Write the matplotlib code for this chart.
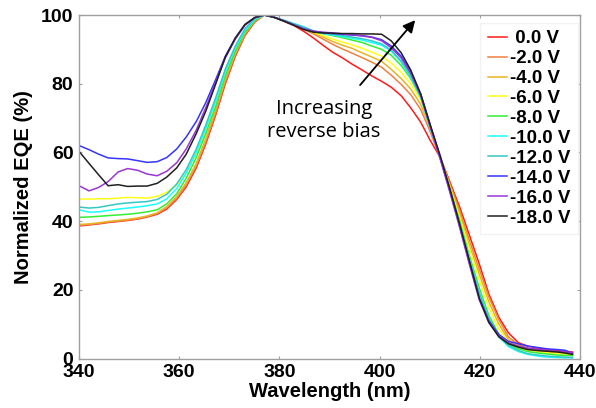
import matplotlib
matplotlib.use("Agg")
import matplotlib.pyplot as plt

plt.rcParams['font.family'] = ['Liberation Sans', 'DejaVu Sans']

wavelength = [340.0, 342.0, 343.9, 345.8, 347.8, 349.7, 351.7, 353.6, 355.6, 357.5,
              359.5, 361.4, 363.4, 365.3, 367.3, 369.2, 371.2, 373.1, 375.1, 377.0,
              379.0, 380.9, 382.9, 384.8, 386.8, 388.7, 390.6, 392.6, 394.5, 396.5,
              398.4, 400.4, 402.3, 404.3, 406.2, 408.2, 410.1, 412.1, 414.0, 416.0,
              417.9, 419.9, 421.8, 423.8, 425.7, 427.7, 429.6, 431.6, 433.5, 435.5,
              437.0, 438.5]

labels = [' 0.0 V', '-2.0 V', '-4.0 V', '-6.0 V', '-8.0 V',
          '-10.0 V', '-12.0 V', '-14.0 V', '-16.0 V', '-18.0 V']

eqe_0V = [38.6, 38.9, 39.2, 39.6, 39.9, 40.2, 40.6, 41.2, 42.0,
          43.5, 46.3, 50.0, 55.5, 62.5, 71.0, 80.0, 88.0, 94.0, 98.0,
          100, 99.3, 98.2, 96.9, 95.3, 93.3, 91.2, 89.2, 87.5, 85.7, 84.0,
          82.3, 80.7, 79.0, 76.5, 73.0, 68.8, 63.5, 58.5, 51.5, 44.0,
          36.0, 27.5, 18.8, 12.0, 7.5, 4.6, 3.6, 3.0, 2.6, 2.3,
          2.1, 1.9]
eqe_m2V = [38.8, 39.0, 39.3, 39.7, 40.0, 40.3, 40.7, 41.3, 42.2,
           43.8, 46.6, 50.5, 56.0, 63.0, 71.5, 80.5, 88.3, 94.2, 98.2,
           100, 99.3, 98.3, 97.1, 95.9, 94.5, 93.0, 91.5, 90.1, 88.9, 87.6,
           86.3, 84.8, 82.5, 79.8, 76.8, 72.5, 66.0, 58.3, 51.0, 43.0,
           34.5, 26.0, 18.0, 11.3, 6.3, 4.0, 3.0, 2.5, 2.1, 1.8,
           1.7, 1.5]
eqe_m4V = [39.0, 39.2, 39.5, 39.9, 40.2, 40.5, 40.9, 41.5, 42.4,
           44.2, 47.2, 51.2, 56.8, 64.0, 72.5, 81.3, 89.0, 94.6, 98.4,
           100, 99.3, 98.3, 97.1, 96.0, 94.8, 93.6, 92.3, 91.2, 90.3, 89.0,
           87.8, 86.5, 84.2, 81.5, 78.5, 74.0, 67.0, 58.5, 50.5, 42.0,
           33.0, 24.5, 16.5, 10.0, 5.5, 3.6, 2.6, 2.2, 1.9, 1.6,
           1.5, 1.3]
eqe_m6V = [46.4, 46.4, 46.5, 46.5, 46.7, 46.9, 46.8, 46.7, 47.2,
           48.4, 50.5, 54.0, 59.5, 66.5, 74.5, 83.0, 90.0, 95.3, 98.6,
           100, 99.3, 98.3, 97.1, 96.0, 95.0, 94.0, 93.0, 92.1, 91.3, 90.3,
           89.2, 88.0, 86.0, 83.3, 80.0, 75.3, 67.5, 58.5, 50.0, 41.0,
           32.0, 23.0, 15.0, 8.5, 5.0, 3.3, 2.4, 2.0, 1.7, 1.4,
           1.3, 1.1]
eqe_m8V = [41.1, 41.2, 41.4, 41.6, 41.8, 42.0, 42.3, 42.7, 43.3,
           45.0, 48.0, 52.5, 58.5, 65.5, 73.5, 82.3, 89.6, 95.0, 98.5,
           100, 99.3, 98.3, 97.1, 96.0, 95.2, 94.6, 94.0, 93.4, 92.7, 92.0,
           91.0, 90.0, 88.3, 85.3, 81.5, 76.0, 67.5, 58.5, 49.5, 40.0,
           30.0, 20.5, 12.5, 7.0, 4.2, 2.8, 2.0, 1.6, 1.3, 1.0,
           0.9, 0.8]
eqe_m10V = [43.3, 42.6, 42.7, 43.1, 43.5, 43.8, 44.1, 44.5, 45.0,
            46.5, 49.5, 54.0, 60.0, 67.0, 75.0, 83.5, 90.5, 95.5, 98.8,
            100, 99.3, 98.4, 97.3, 96.2, 95.2, 94.6, 94.2, 93.7, 93.2, 92.7,
            92.0, 91.2, 89.5, 86.3, 82.0, 76.0, 67.0, 58.5, 49.0, 39.0,
            29.0, 19.0, 11.5, 6.3, 3.5, 2.0, 1.2, 0.7, 0.4, 0.3,
            0.2, 0.2]
eqe_m12V = [44.1, 43.8, 44.0, 44.5, 45.0, 45.3, 45.5, 45.7, 46.3,
            47.8, 50.8, 55.0, 61.0, 68.0, 76.0, 84.3, 91.0, 96.0, 99.0,
            100, 99.3, 98.5, 97.5, 96.6, 95.4, 94.8, 94.4, 94.0, 93.6, 93.1,
            92.5, 91.6, 89.8, 86.6, 82.3, 76.3, 67.3, 58.5, 49.0, 39.0,
            29.0, 19.0, 11.5, 6.5, 3.8, 2.3, 1.4, 1.0, 0.7, 0.5,
            0.4, 0.3]
eqe_m14V = [62.0, 60.8, 59.5, 58.4, 58.2, 58.1, 57.6, 57.1, 57.3,
            58.5, 61.0, 64.5, 69.0, 74.5, 81.3, 88.0, 93.3, 97.2, 99.3,
            100, 99.3, 98.3, 97.1, 96.0, 95.2, 94.8, 94.6, 94.4, 94.2, 94.0,
            93.6, 92.8, 91.0, 88.0, 83.5, 77.0, 68.0, 58.5, 49.0, 38.5,
            28.0, 17.5, 11.0, 7.0, 5.0, 4.3, 3.6, 3.2, 2.8, 2.6,
            2.4, 1.5]
eqe_m16V = [50.3, 48.8, 49.8, 51.5, 54.3, 55.3, 54.8, 53.7, 53.2,
            54.5, 57.0, 61.0, 66.5, 73.0, 80.5, 87.5, 93.0, 97.0, 99.2,
            100, 99.3, 98.3, 97.1, 96.0, 95.3, 95.0, 94.8, 94.5, 94.2, 93.9,
            93.5, 92.5, 90.5, 87.5, 83.0, 76.5, 67.5, 58.0, 48.5, 38.0,
            27.5, 17.0, 10.5, 6.5, 4.6, 3.6, 3.0, 2.7, 2.4, 2.1,
            1.9, 1.7]
eqe_m18V = [60.3, 56.8, 53.5, 50.3, 50.6, 50.1, 50.2, 50.2, 51.0,
            52.8, 55.5, 59.5, 65.5, 72.0, 80.0, 87.8, 93.3, 97.2, 99.3,
            100, 99.3, 98.2, 97.0, 95.8, 95.0, 94.8, 94.7, 94.6, 94.6, 94.5,
            94.5, 94.4, 92.5, 89.0, 84.0, 77.0, 68.0, 59.0, 49.5, 39.0,
            28.5, 17.5, 10.5, 6.3, 4.3, 3.3, 2.6, 2.3, 2.1, 1.9,
            1.6, 1.2]

series = [eqe_0V, eqe_m2V, eqe_m4V, eqe_m6V, eqe_m8V,
          eqe_m10V, eqe_m12V, eqe_m14V, eqe_m16V, eqe_m18V]
colors = ['#ff1a1a', '#f08040', '#e8b425', '#ffff1a', '#33ee33',
          '#1affff', '#33c8c8', '#3535ff', '#9a35d6', '#202020']

x_ticks = [340, 360, 380, 400, 420, 440]
y_ticks = [0, 20, 40, 60, 80, 100]

fig = plt.figure(figsize=(5.96, 4.08), dpi=100)
ax = fig.add_axes([0.1326, 0.1213, 0.8406, 0.8419])

for vals, c, lab in zip(series, colors, labels):
    ax.plot(wavelength, vals, color=c, lw=1.1, label=lab)

ax.set_xlim(340, 440)
ax.set_ylim(0, 100)
ax.set_xticks(x_ticks)
ax.set_yticks(y_ticks)
for s in ax.spines.values():
    s.set_color('#a0a0a0')
    s.set_linewidth(1.0)
ax.tick_params(direction='in', length=2.5, width=0.8, color='#a0a0a0',
               top=True, right=True, labelsize=14, pad=4, labelcolor='black')
for t in ax.get_xticklabels() + ax.get_yticklabels():
    t.set_fontweight('bold')

ax.set_xlabel('Wavelength (nm)', fontsize=14.5, fontweight='bold', labelpad=1)
ax.set_ylabel('Normalized EQE (%)', fontsize=14.5, fontweight='bold', labelpad=6)

leg = ax.legend(loc='upper right', bbox_to_anchor=(0.995, 0.978),
                prop={'weight': 'bold', 'size': 13.5}, handlelength=1.0,
                handletextpad=0.15, labelspacing=0.15, borderpad=0.4,
                borderaxespad=0.0, frameon=True, fancybox=False)
leg.get_frame().set_edgecolor('#f2f2f2')
leg.get_frame().set_facecolor('white')
leg.get_frame().set_alpha(1.0)

ax.text(388.9, 69.3, 'Increasing\nreverse bias', ha='center', va='center',
        fontsize=14.5, family=['Open Sans', 'DejaVu Sans'], linespacing=1.25)
ax.annotate('', xy=(407.1, 98.5), xytext=(396.1, 79.6),
            arrowprops=dict(arrowstyle='-|>', color='black', lw=1.3,
                            mutation_scale=18, shrinkA=0, shrinkB=0))

fig.savefig('out.png', dpi=100)
